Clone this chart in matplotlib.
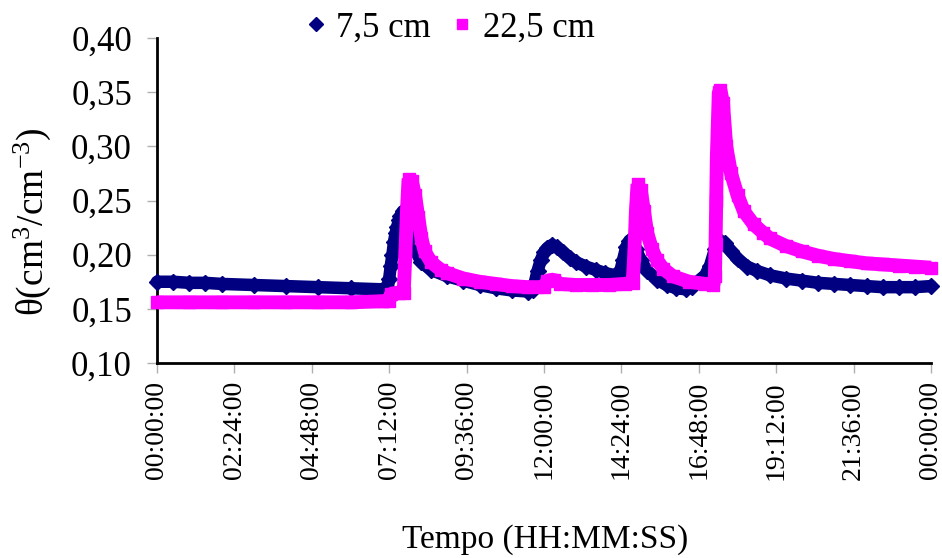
import matplotlib
matplotlib.use("Agg")
import matplotlib.pyplot as plt
from matplotlib.lines import Line2D

plt.rcParams['font.family'] = ['Liberation Serif', 'DejaVu Serif']
plt.rcParams['mathtext.fontset'] = 'custom'
plt.rcParams['mathtext.rm'] = 'Liberation Serif'
plt.rcParams['mathtext.it'] = 'Liberation Serif:italic'

# ---- data (time in hours, volumetric water content) ----
t_75 = [0.0, 0.5, 1.0, 1.5, 2.0, 3.0, 4.0, 5.0, 6.0, 7.0, 7.15, 7.2, 7.25, 7.3, 7.35,
        7.4, 7.45, 7.5, 7.55, 7.62, 7.7, 7.8, 7.9, 8.0, 8.2, 8.5, 9.0, 9.5, 10.0, 10.5,
        11.0, 11.5, 11.65, 11.72, 11.8, 11.9, 12.0, 12.1, 12.25, 12.4, 12.6, 12.8, 13.0,
        13.3, 13.6, 13.9, 14.2, 14.35, 14.45, 14.55, 14.65, 14.75, 14.85, 15.0, 15.2,
        15.5, 15.8, 16.1, 16.4, 16.6, 16.8, 17.0, 17.15, 17.3, 17.45, 17.6, 17.8, 18.0,
        18.3, 18.6, 19.0, 19.5, 20.0, 20.5, 21.0, 21.5, 22.0, 22.5, 23.0, 23.5, 24.0]
v_75 = [0.175, 0.175, 0.174, 0.174, 0.173, 0.172, 0.171, 0.170, 0.169, 0.168, 0.168,
        0.178, 0.190, 0.200, 0.212, 0.220, 0.226, 0.232, 0.236, 0.240, 0.235, 0.222,
        0.212, 0.205, 0.193, 0.186, 0.180, 0.176, 0.172, 0.169, 0.167, 0.166, 0.167,
        0.175, 0.185, 0.195, 0.202, 0.206, 0.209, 0.207, 0.202, 0.197, 0.193, 0.189,
        0.186, 0.183, 0.181, 0.183, 0.195, 0.207, 0.213, 0.215, 0.205, 0.195, 0.185,
        0.177, 0.172, 0.169, 0.168, 0.170, 0.176, 0.181, 0.190, 0.205, 0.213, 0.211,
        0.203, 0.196, 0.189, 0.185, 0.181, 0.178, 0.176, 0.174, 0.173, 0.172, 0.171,
        0.170, 0.170, 0.170, 0.171]

t_225 = [0.0, 1.0, 2.0, 3.0, 4.0, 5.0, 6.0, 7.0, 7.2, 7.25, 7.5, 7.65, 7.7, 7.75, 7.8,
         7.9, 8.0, 8.1, 8.2, 8.3, 8.5, 8.8, 9.0, 9.5, 10.0, 10.5, 11.0, 11.5, 12.0, 12.1,
         12.3, 12.5, 13.0, 13.5, 14.0, 14.5, 14.75, 14.8, 14.85, 14.9, 15.0, 15.1, 15.2,
         15.35, 15.5, 15.7, 16.0, 16.5, 17.0, 17.25, 17.3, 17.32, 17.34, 17.36, 17.38,
         17.42, 17.47, 17.55, 17.65, 17.8, 18.0, 18.2, 18.5, 18.8, 19.0, 19.5, 20.0,
         20.5, 21.0, 21.5, 22.0, 22.5, 23.0, 23.5, 24.0]
v_225 = [0.156, 0.156, 0.156, 0.156, 0.156, 0.156, 0.156, 0.157, 0.157, 0.164, 0.165,
         0.165, 0.200, 0.240, 0.270, 0.268, 0.255, 0.235, 0.215, 0.203, 0.193, 0.186,
         0.183, 0.178, 0.175, 0.173, 0.171, 0.170, 0.170, 0.176, 0.177, 0.173, 0.172,
         0.172, 0.172, 0.173, 0.174, 0.200, 0.240, 0.265, 0.260, 0.240, 0.220, 0.205,
         0.195, 0.187, 0.180, 0.175, 0.173, 0.172, 0.180, 0.210, 0.250, 0.290, 0.310,
         0.350, 0.352, 0.340, 0.300, 0.275, 0.255, 0.240, 0.228, 0.220, 0.215, 0.208,
         0.203, 0.199, 0.196, 0.194, 0.192, 0.191, 0.190, 0.189, 0.188]

tick_hours = [0, 2.4, 4.8, 7.2, 9.6, 12.0, 14.4, 16.8, 19.2, 21.6, 24.0]
tick_labels = ["00:00:00", "02:24:00", "04:48:00", "07:12:00", "09:36:00", "12:00:00",
               "14:24:00", "16:48:00", "19:12:00", "21:36:00", "00:00:00"]
y_ticks = [0.10, 0.15, 0.20, 0.25, 0.30, 0.35, 0.40]
y_labels = ["0,10", "0,15", "0,20", "0,25", "0,30", "0,35", "0,40"]

navy = '#000080'
magenta = '#FF00FF'

fig = plt.figure(figsize=(9.42, 5.58), dpi=100)
ax = fig.add_axes([157 / 942, 1 - 363 / 558, (931 - 157) / 942, (363 - 38) / 558])

ax.plot(t_75, v_75, color=navy, lw=9, marker='D', ms=8, solid_joinstyle='round',
        solid_capstyle='round', clip_on=False, zorder=3)
ax.plot(t_225, v_225, color=magenta, lw=10, marker='s', ms=9, solid_joinstyle='bevel',
        solid_capstyle='butt', clip_on=False, zorder=4)

ax.set_xlim(0, 24)
ax.set_ylim(0.10, 0.40)
ax.set_xticks(tick_hours)
ax.set_xticklabels(tick_labels, rotation=90, fontsize=20)
ax.set_yticks(y_ticks)
ax.set_yticklabels(y_labels, fontsize=25)
ax.tick_params(axis='both', direction='out', length=7, width=1, color='#b0b0b0')
ax.tick_params(axis='x', pad=6)
ax.tick_params(axis='y', pad=11)

for s in ['top', 'right']:
    ax.spines[s].set_visible(False)
for s in ['left', 'bottom']:
    ax.spines[s].set_linewidth(2)
    ax.spines[s].set_color('black')

fig.text(545 / 942, 1 - 540 / 558, 'Tempo (HH:MM:SS)', ha='center', va='center', fontsize=24)
fig.text(32 / 942, 1 - 222 / 558, r'θ(cm$^3$/cm$^{-3}$)', ha='center', va='center',
         rotation=90, fontsize=27)

handles = [Line2D([], [], color=navy, marker='D', ls='none', ms=7),
           Line2D([], [], color=magenta, marker='s', ls='none', ms=7.5)]
fig.legend(handles, ['7,5 cm', '22,5 cm'], loc='center', bbox_to_anchor=(450 / 942, 1 - 28 / 558),
           ncol=2, frameon=False, fontsize=25, handlelength=0.6, handletextpad=0.3,
           columnspacing=0.6, borderpad=0)

fig.savefig('out.png', dpi=100)
